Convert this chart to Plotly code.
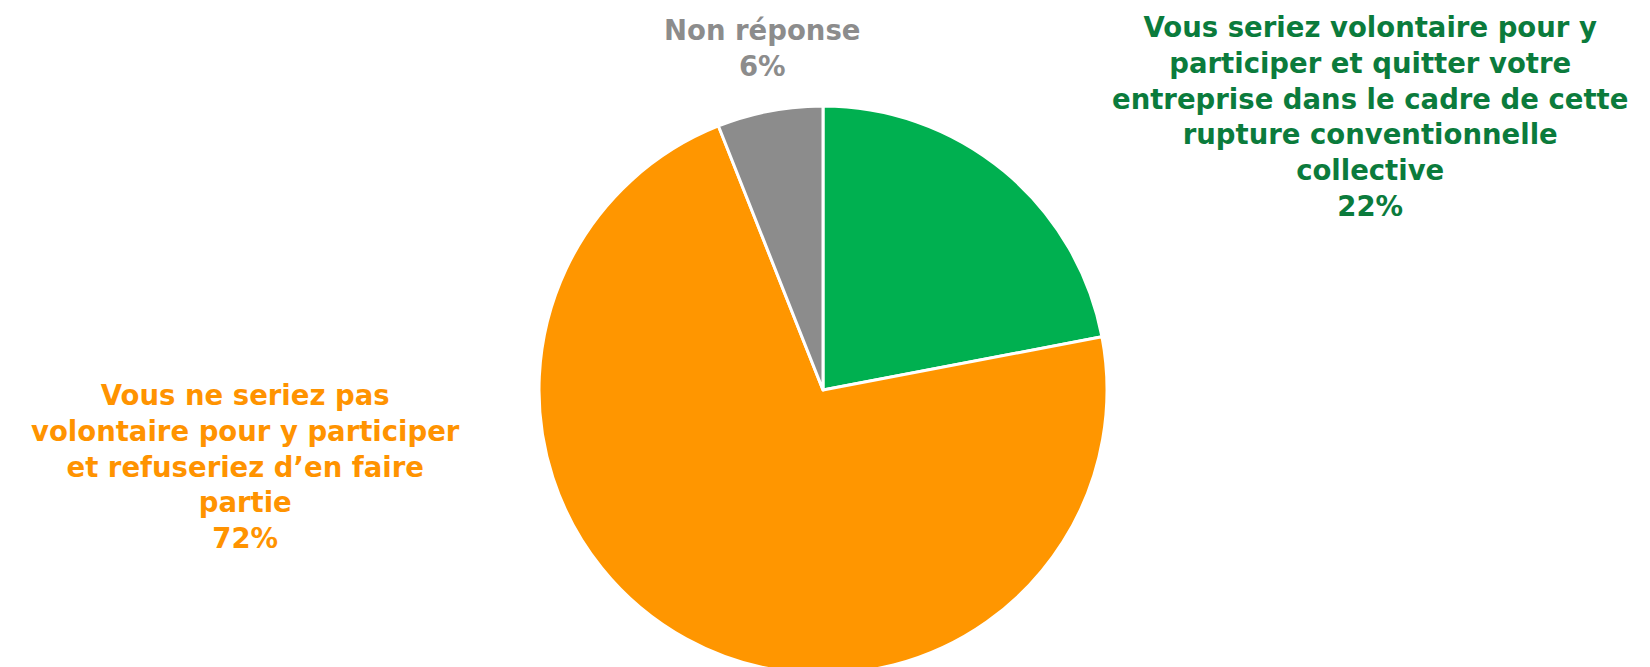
import plotly.graph_objects as go

categories = [
    "Vous seriez volontaire pour y participer et quitter votre entreprise dans le cadre de cette rupture conventionnelle collective",
    "Vous ne seriez pas volontaire pour y participer et refuseriez d’en faire partie",
    "Non réponse",
]
values = [22, 72, 6]
label_lines = [
    "Vous seriez volontaire pour y<br>participer et quitter votre<br>entreprise dans le cadre de cette<br>rupture conventionnelle<br>collective",
    "Vous ne seriez pas<br>volontaire pour y participer<br>et refuseriez d’en faire<br>partie",
    "Non réponse",
]
slice_colors = ["#00B050", "#FF9600", "#8C8C8C"]
text_colors = ["#0B7B3C", "#FF9300", "#8C8C8C"]
label_pos = [(1362, 108), (237, 458), (754, 40)]

W, H = 1650, 667
cx, cy, r = 815, 382, 284

fig = go.Figure(go.Pie(
    labels=categories,
    values=values,
    sort=False,
    direction="clockwise",
    rotation=0,
    textinfo="none",
    hoverinfo="label+percent",
    marker=dict(colors=slice_colors, line=dict(color="white", width=3)),
    domain=dict(x=[(cx - r) / W, (cx + r) / W], y=[max(0, (H - cy - r) / H), (H - cy + r) / H]),
    showlegend=False,
))

for lab, v, col, (x, y) in zip(label_lines, values, text_colors, label_pos):
    fig.add_annotation(
        x=x / W, y=1 - y / H, xref="paper", yref="paper",
        text=f"<b>{lab}<br>{v}%</b>", showarrow=False,
        xanchor="center", yanchor="middle", align="center",
        font=dict(family="DejaVu Sans", size=27.5, color=col),
    )

fig.update_layout(
    width=W, height=H,
    margin=dict(l=0, r=0, t=0, b=0),
    paper_bgcolor="white", plot_bgcolor="white",
)
fig.write_html("out.html")
